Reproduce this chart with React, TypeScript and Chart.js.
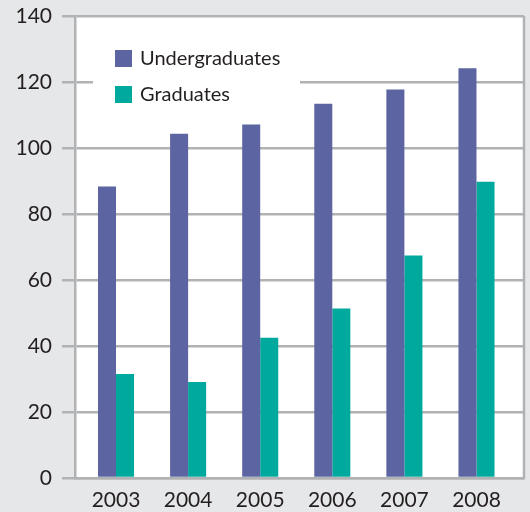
import React, { useEffect, useRef } from "react";
import { Chart, registerables } from "chart.js";

Chart.register(...registerables);

const years = [2003, 2004, 2005, 2006, 2007, 2008];
const undergraduates = [88.3, 104.3, 107.1, 113.4, 117.7, 124.2];
const graduates = [31.5, 29.1, 42.5, 51.4, 67.4, 89.8];
const seriesNames = ["Undergraduates", "Graduates"];
const yMin = 0;
const yMax = 140;
const yStep = 20;

const FONT = "Lato, 'Open Sans', sans-serif";
const TEXT = "#231f20";
const GRID = "#b1b2b4";
const BG = "#e6e7e8";
const PURPLE = "#5c64a1";
const TEAL = "#00a99d";

const backgroundPlugin = {
  id: "bgPlugin",
  beforeDraw(chart: any) {
    const { ctx, chartArea, width, height } = chart;
    ctx.save();
    ctx.fillStyle = BG;
    ctx.fillRect(0, 0, width, height);
    ctx.fillStyle = "#ffffff";
    ctx.fillRect(chartArea.left, chartArea.top, chartArea.right - chartArea.left, chartArea.bottom - chartArea.top);
    ctx.restore();
  },
  beforeDatasetsDraw(chart: any) {
    const { ctx, chartArea } = chart;
    ctx.save();
    ctx.strokeStyle = GRID;
    ctx.lineWidth = 2.5;
    ctx.beginPath();
    ctx.moveTo(chartArea.right, chartArea.top);
    ctx.lineTo(chartArea.right, chartArea.bottom);
    ctx.stroke();
    ctx.restore();
  },
};

const insideLegendPlugin = {
  id: "insideLegend",
  afterDatasetsDraw(chart: any) {
    const { ctx, chartArea } = chart;
    const left = chartArea.left;
    const top = chartArea.top;
    ctx.save();
    ctx.fillStyle = "#ffffff";
    ctx.fillRect(left + 18, top + 24, 207, 80);
    chart.data.datasets.forEach((ds: any, i: number) => {
      const by = top + 34 + i * 36;
      ctx.fillStyle = ds.backgroundColor;
      ctx.fillRect(left + 40, by, 17, 17);
      ctx.fillStyle = TEXT;
      ctx.font = `20px ${FONT}`;
      ctx.textBaseline = "middle";
      ctx.textAlign = "left";
      ctx.fillText(ds.label, left + 65, by + 9);
    });
    ctx.restore();
  },
};

export default function App() {
  const canvasRef = useRef<HTMLCanvasElement | null>(null);

  useEffect(() => {
    document.body.style.margin = "0";
    const canvas = canvasRef.current;
    if (!canvas) return;
    const chart = new Chart(canvas, {
      type: "bar",
      data: {
        datasets: [
          {
            label: seriesNames[0],
            data: years.map((y, i) => ({ x: y, y: undergraduates[i] })),
            backgroundColor: PURPLE,
            borderWidth: 0,
            categoryPercentage: 0.5,
            barPercentage: 1,
          },
          {
            label: seriesNames[1],
            data: years.map((y, i) => ({ x: y, y: graduates[i] })),
            backgroundColor: TEAL,
            borderWidth: 0,
            categoryPercentage: 0.5,
            barPercentage: 1,
          },
        ],
      },
      options: {
        animation: false,
        responsive: true,
        maintainAspectRatio: false,
        layout: { padding: { top: 16, right: 6, left: 0, bottom: 0 } },
        plugins: {
          legend: { display: false },
          tooltip: { enabled: false },
        },
        scales: {
          x: {
            type: "linear",
            offset: false,
            min: years[0] - 0.569,
            max: years[years.length - 1] + 0.659,
            afterBuildTicks: (axis: any) => {
              axis.ticks = years.map((y) => ({ value: y }));
            },
            afterFit: (s: any) => {
              s.height = 34;
            },
            ticks: {
              callback: (v: any) => String(v),
              font: { family: FONT, size: 21 },
              color: TEXT,
              padding: 10,
              autoSkip: false,
              maxRotation: 0,
            },
            grid: { display: false, drawTicks: false, offset: false },
            border: { display: true, color: GRID, width: 2.5 },
          },
          y: {
            type: "linear",
            min: yMin,
            max: yMax,
            afterFit: (s: any) => {
              s.width = 75;
            },
            ticks: {
              stepSize: yStep,
              font: { family: FONT, size: 21, lineHeight: 0.5 },
              color: TEXT,
              padding: 10,
            },
            grid: { color: GRID, lineWidth: 2.5, tickLength: 13, drawTicks: true },
            border: { display: true, color: GRID, width: 2.5 },
          },
        },
      },
      plugins: [backgroundPlugin, insideLegendPlugin],
    });
    return () => chart.destroy();
  }, []);

  return (
    <div style={{ width: 530, height: 512, position: "relative" }}>
      <canvas ref={canvasRef} />
    </div>
  );
}
